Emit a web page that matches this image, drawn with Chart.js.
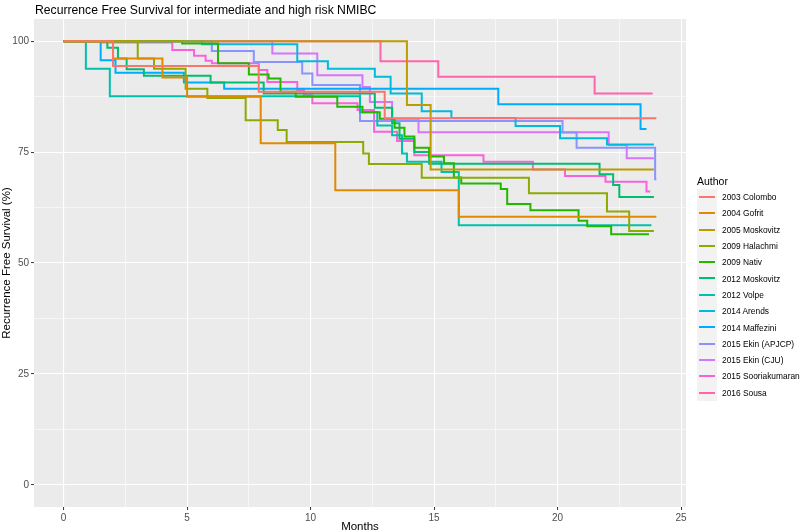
<!DOCTYPE html>
<html>
<head>
<meta charset="utf-8">
<script src="https://cdn.jsdelivr.net/npm/chart.js@4/dist/chart.umd.min.js"></script>
<style>
  body { margin: 0; background: #fff; font-family: "Liberation Sans", Arial, sans-serif; }
  #wrap { position: relative; width: 800px; height: 532px; overflow: hidden; }
  #title { position: absolute; left: 35px; top: 3px; font-size: 12.2px; color: #000; white-space: nowrap; }
  #legend { position: absolute; left: 697px; top: 173px; font-size: 8.4px; color: #000; white-space: nowrap; }
  #legend .head { font-size: 10.5px; height: 16px; line-height: 16px; }
  #legend .row { display: flex; align-items: center; height: 16.3px; }
  #legend .key { width: 20px; height: 16.3px; background: #f2f2f2; position: relative; margin-right: 5px; flex: none; }
  #legend .key span { position: absolute; left: 2px; right: 2px; top: 7px; height: 2px; }
</style>
</head>
<body>
<div id="wrap">
  <canvas id="kmChart" width="800" height="532"></canvas>
  <div id="title">Recurrence Free Survival for intermediate and high risk NMIBC</div>
  <div id="legend"></div>
</div>
<script>
// Studies (legend order)
const authors = ["2003 Colombo", "2004 Gofrit", "2005 Moskovitz", "2009 Halachmi", "2009 Nativ",
  "2012 Moskovitz", "2012 Volpe", "2014 Arends", "2014 Maffezini", "2015 Ekin (APJCP)",
  "2015 Ekin (CJU)", "2015 Sooriakumaran", "2016 Sousa"];

// ggplot hue palette, 13 colours
const colors = ["#F8766D", "#E18A00", "#BE9C00", "#8CAB00", "#24B700", "#00BE70", "#00C1AB",
  "#00BBDA", "#00ACFC", "#8B93FF", "#D575FE", "#F962DD", "#FF65AC"];

// Kaplan-Meier steps: [month, survival %], last pair = end of follow-up
const colombo = [[0, 100], [2.0, 94.4], [7.9, 88.6], [13.0, 82.6], [24.0, 82.6]];
const gofrit = [[0, 100], [2.0, 96.1], [4.0, 91.8], [5.0, 87.5], [7.98, 77.0], [11.0, 66.4], [16.0, 60.4], [24.0, 60.4]];
const moskovitz2005 = [[0, 100], [13.9, 85.6], [14.86, 71.1], [23.9, 71.1]];
const halachmi = [[0, 100], [3.0, 96.1], [3.66, 93.8], [4.94, 89.3], [5.82, 87.2], [7.37, 82.2], [8.67, 80.0],
  [9.03, 77.3], [12.13, 74.7], [12.36, 72.3], [14.5, 69.2], [18.84, 65.7], [22.0, 61.6], [22.9, 57.2], [23.9, 57.2]];
const nativ = [[0, 100], [4.8, 99.5], [6.25, 95.0], [7.5, 92.5], [8.3, 91.6], [8.78, 88.6], [9.4, 87.5],
  [11.08, 85.2], [12.1, 84.0], [12.8, 82.5], [13.4, 80.5], [13.8, 78.5], [14.2, 76.0], [14.8, 74.0],
  [15.4, 72.5], [15.8, 69.3], [16.1, 67.9], [17.7, 66.7], [17.96, 63.3], [18.9, 61.9], [20.85, 59.5],
  [21.2, 58.3], [22.17, 56.5], [23.7, 56.5]];
const moskovitz2012 = [[0, 100], [1.77, 98.5], [2.2, 96.1], [2.55, 93.7], [3.25, 92.2], [5.95, 90.7],
  [8.1, 88.2], [12.6, 85.0], [13.3, 81.5], [13.6, 78.0], [14.2, 75.0], [14.8, 72.4], [21.7, 70.0],
  [22.25, 67.6], [22.5, 64.9], [23.9, 64.9]];
const volpe = [[0, 100], [0.9, 93.8], [1.87, 87.6], [12.0, 84.0], [12.7, 81.0], [13.3, 78.8], [13.7, 74.7],
  [13.9, 72.8], [15.3, 70.5], [16.0, 58.5], [23.8, 58.5]];
const arends = [[0, 100], [5.6, 99.3], [9.46, 95.5], [10.7, 93.8], [12.6, 92.0], [13.24, 88.2], [14.5, 84.2],
  [15.7, 82.7], [18.3, 80.9], [20.1, 78.1], [22.0, 76.7], [23.9, 76.7]];
const maffezini = [[0, 100], [1.5, 95.7], [2.1, 92.9], [4.87, 90.7], [6.5, 89.3], [17.6, 85.8], [23.36, 80.2], [23.6, 80.2]];
const ekinApjcp = [[0, 100], [6.0, 97.8], [7.7, 95.3], [9.66, 92.7], [10.07, 90.1], [12.0, 82.0], [20.2, 79.4],
  [20.77, 76.0], [23.95, 68.9], [24.0, 68.9]];
const ekinCju = [[0, 100], [8.45, 97.2], [10.27, 92.3], [12.1, 89.7], [12.4, 86.3], [13.3, 82.5], [14.37, 79.5],
  [22.07, 76.6], [22.8, 73.6], [23.9, 73.6]];
const sooriakumaran = [[0, 100], [1.5, 99.7], [4.4, 98.0], [5.28, 96.7], [5.75, 95.6], [6.0, 95.0], [7.9, 93.5],
  [8.25, 90.8], [9.46, 89.0], [9.73, 87.8], [10.07, 86.0], [11.9, 84.5], [12.57, 79.6], [13.5, 77.5],
  [14.2, 74.3], [17.0, 72.8], [19.0, 71.1], [20.3, 69.6], [21.94, 68.3], [23.6, 66.1], [23.75, 66.1]];
const sousa = [[0, 100], [12.83, 95.5], [15.17, 92.0], [21.5, 88.2], [23.85, 88.2]];

const seriesPoints = [colombo, gofrit, moskovitz2005, halachmi, nativ, moskovitz2012, volpe, arends,
  maffezini, ekinApjcp, ekinCju, sooriakumaran, sousa];

// axis ticks (major labelled, minor only as grid)
const xTicks = [0, 5, 10, 15, 20, 25];
const yTicks = [0, 25, 50, 75, 100];
const xMinor = [2.5, 7.5, 12.5, 17.5, 22.5];
const yMinor = [12.5, 37.5, 62.5, 87.5];

// grey ggplot panel
const panelBg = {
  id: "panelBg",
  beforeDraw(chart) {
    const { ctx, chartArea: a } = chart;
    ctx.save();
    ctx.fillStyle = "#ebebeb";
    ctx.fillRect(a.left, a.top, a.right - a.left, a.bottom - a.top);
    ctx.restore();
  },
};

const isMajor = (list, v) => list.includes(v);

function axis(major, minor, min, max, title) {
  return {
    type: "linear",
    min: min,
    max: max,
    afterBuildTicks: (scale) => {
      scale.ticks = major.concat(minor).sort((a, b) => a - b).map((v) => ({ value: v }));
    },
    border: { display: false },
    grid: {
      color: "#ffffff",
      lineWidth: (c) => (c.tick && isMajor(major, c.tick.value) ? 1.1 : 0.55),
      tickColor: (c) => (c.tick && isMajor(major, c.tick.value) ? "#333333" : "rgba(0,0,0,0)"),
      tickLength: 3,
      tickWidth: 1,
    },
    ticks: {
      autoSkip: false,
      maxRotation: 0,
      color: "#4d4d4d",
      padding: 2,
      font: { family: "Liberation Sans, Arial", size: 10 },
      callback: (v) => (isMajor(major, v) ? String(v) : ""),
    },
    title: {
      display: true,
      text: title,
      color: "#000",
      padding: 0,
      font: { family: "Liberation Sans, Arial", size: 11.5 },
    },
  };
}

const xScale = axis(xTicks, xMinor, -1.2, 25.2, "Months");
xScale.afterFit = (scale) => { scale.height = 25; };
xScale.title.padding = { top: 0, bottom: -2 };
const yScale = axis(yTicks, yMinor, -5, 105, "Recurrence Free Survival (%)");
yScale.afterFit = (scale) => { scale.width = 34; };

new Chart(document.getElementById("kmChart"), {
  type: "line",
  data: {
    datasets: authors.map((name, i) => ({
      label: name,
      data: seriesPoints[i].map(([x, y]) => ({ x, y })),
      borderColor: colors[i],
      borderWidth: 2,
      stepped: true,
      pointRadius: 0,
      fill: false,
    })),
  },
  options: {
    responsive: false,
    animation: false,
    devicePixelRatio: 1,
    layout: { padding: { left: 0, right: 114, top: 19, bottom: 0 } },
    plugins: { legend: { display: false }, tooltip: { enabled: false } },
    scales: { x: xScale, y: yScale },
  },
  plugins: [panelBg],
});

// legend in ggplot style
const legend = document.getElementById("legend");
legend.innerHTML = '<div class="head">Author</div>' + authors.map((name, i) =>
  '<div class="row"><div class="key"><span style="background:' + colors[i] + '"></span></div>' + name + "</div>"
).join("");
</script>
</body>
</html>
